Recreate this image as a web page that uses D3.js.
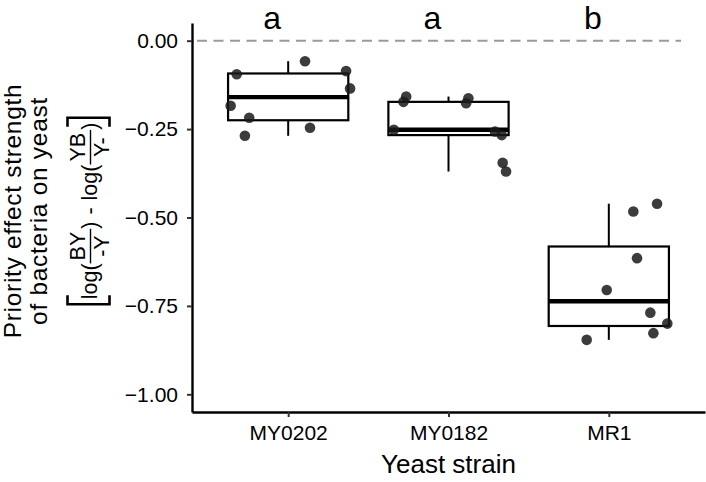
<!DOCTYPE html>
<html>
<head>
<meta charset="utf-8">
<script src="https://cdn.jsdelivr.net/npm/d3@7"></script>
<style>
  html, body { margin: 0; padding: 0; background: #fff; }
  svg { display: block; font-family: "Liberation Sans", Arial, Helvetica, sans-serif; }
</style>
</head>
<body>
<svg id="chart" width="706" height="482"></svg>
<script>
// ---- data ----
const categories = ["MY0202", "MY0182", "MR1"];
const my0202Values = [-0.058, -0.095, -0.086, -0.135, -0.184, -0.218, -0.246, -0.269];
const my0202Jitter = [0.105, -0.321, 0.361, 0.386, -0.359, -0.243, 0.136, -0.270];
const my0182Values = [-0.158, -0.173, -0.163, -0.177, -0.252, -0.257, -0.267, -0.345, -0.370];
const my0182Jitter = [-0.264, -0.281, 0.124, 0.110, -0.341, 0.290, 0.332, 0.338, 0.359];
const mr1Values = [-0.461, -0.483, -0.615, -0.705, -0.769, -0.800, -0.827, -0.846];
const mr1Jitter = [0.301, 0.153, 0.176, -0.013, 0.259, 0.365, 0.278, -0.138];
const sigLetters = ["a", "a", "b"];
const yTicks = [0, -0.25, -0.5, -0.75, -1];

const groupValues = [my0202Values, my0182Values, mr1Values];
const groupJitter = [my0202Jitter, my0182Jitter, mr1Jitter];

// ---- layout ----
const svg = d3.select("#chart");
const mLeft = 192, mRight = 705, mTop = 23, mBottom = 412;

const x = d3.scalePoint().domain(categories).range([mLeft, mRight]).padding(0.6);
const step = x.step();
const y = d3.scaleLinear().domain([-1.05, 0.05]).range([mBottom, mTop]);

// reference line at 0
svg.append("line")
  .attr("x1", mLeft + 5).attr("x2", mRight - 24)
  .attr("y1", y(0)).attr("y2", y(0))
  .attr("stroke", "#9a9a9a").attr("stroke-width", 2)
  .attr("stroke-dasharray", "10,6.5");

// box stats
const stats = groupValues.map((vals, i) => {
  const s = vals.slice().sort(d3.ascending);
  const q1 = d3.quantile(s, 0.25), med = d3.quantile(s, 0.5), q3 = d3.quantile(s, 0.75);
  const iqr = q3 - q1;
  const lo = d3.min(s.filter(v => v >= q1 - 1.5 * iqr));
  const hi = d3.max(s.filter(v => v <= q3 + 1.5 * iqr));
  return { cat: categories[i], q1, med, q3, lo, hi };
});

const boxW = step * 0.75;
const boxes = svg.append("g");
stats.forEach(d => {
  const cx = x(d.cat);
  const g = boxes.append("g");
  g.append("line").attr("x1", cx).attr("x2", cx).attr("y1", y(d.q3)).attr("y2", y(d.hi))
    .attr("stroke", "#000").attr("stroke-width", 2);
  g.append("line").attr("x1", cx).attr("x2", cx).attr("y1", y(d.q1)).attr("y2", y(d.lo))
    .attr("stroke", "#000").attr("stroke-width", 2);
  g.append("rect").attr("x", cx - boxW / 2).attr("width", boxW)
    .attr("y", y(d.q3)).attr("height", y(d.q1) - y(d.q3))
    .attr("fill", "#fff").attr("stroke", "#000").attr("stroke-width", 2.2);
  g.append("line").attr("x1", cx - boxW / 2).attr("x2", cx + boxW / 2)
    .attr("y1", y(d.med)).attr("y2", y(d.med))
    .attr("stroke", "#000").attr("stroke-width", 4.4);
});

// points
const pts = [];
groupValues.forEach((vals, i) => vals.forEach((v, j) => pts.push({ cat: categories[i], v, jit: groupJitter[i][j] })));
svg.append("g").selectAll("circle").data(pts).join("circle")
  .attr("cx", d => x(d.cat) + d.jit * step)
  .attr("cy", d => y(d.v))
  .attr("r", 5.3)
  .attr("fill", "#1a1a1a").attr("fill-opacity", 0.85);

// significance letters
svg.append("g").selectAll("text").data(categories).join("text")
  .attr("x", (d, i) => x(d) - 0.1 * step)
  .attr("y", 29)
  .attr("text-anchor", "middle")
  .attr("font-size", 32)
  .attr("fill", "#000")
  .text((d, i) => sigLetters[i]);

// axes
const yAxis = svg.append("g").attr("transform", `translate(${mLeft},0)`)
  .call(d3.axisLeft(y).tickValues(yTicks).tickFormat(d3.format(".2f")).tickSize(5).tickPadding(9).tickSizeOuter(0));
const xAxis = svg.append("g").attr("transform", `translate(0,${mBottom})`)
  .call(d3.axisBottom(x).tickSize(5).tickPadding(8).tickSizeOuter(0));
[yAxis, xAxis].forEach(a => {
  a.attr("font-family", null);
  a.select(".domain").attr("stroke", "#000").attr("stroke-width", 2.4);
  a.selectAll(".tick line").attr("stroke", "#333").attr("stroke-width", 2);
  a.selectAll(".tick text").attr("fill", "#000");
});
yAxis.attr("font-size", 21);
xAxis.attr("font-size", 21);

// x title
svg.append("text").attr("x", (mLeft + mRight) / 2).attr("y", 473)
  .attr("text-anchor", "middle").attr("font-size", 26).attr("fill", "#000")
  .text("Yeast strain");

// y title lines
const yCenter = 211;
svg.append("text").attr("transform", `translate(21,${yCenter}) rotate(-90)`)
  .attr("text-anchor", "middle").attr("font-size", 24.5).attr("letter-spacing", 0.7).attr("fill", "#000")
  .text("Priority effect strength");
svg.append("text").attr("transform", `translate(46.5,${yCenter}) rotate(-90)`)
  .attr("text-anchor", "middle").attr("font-size", 24.5).attr("letter-spacing", 0.7).attr("fill", "#000")
  .text("of bacteria on yeast");

// bracketed expression: laid out sequentially in a rotated group
// local x runs upward on screen, local y runs to the right; fraction bars at local y = 0
const ex = svg.append("g").attr("transform", `translate(90.5,${yCenter}) rotate(-90)`);
const inner = ex.append("g");
const fs = 21.5;
const bTop = -23, bBot = 19, serif = 9;
let cur = 0;
function addText(str, dx) {
  const t = inner.append("text").attr("x", cur + (dx || 0)).attr("y", 6).attr("font-size", fs).attr("fill", "#000").text(str);
  cur += (dx || 0) + t.node().getComputedTextLength();
}
function addFrac(num, den) {
  const n = inner.append("text").attr("y", -5.5).attr("font-size", fs).attr("text-anchor", "middle").attr("fill", "#000").text(num);
  const d = inner.append("text").attr("y", 18).attr("font-size", fs).attr("text-anchor", "middle").attr("fill", "#000").text(den);
  const w = Math.max(n.node().getComputedTextLength(), d.node().getComputedTextLength()) + 6;
  n.attr("x", cur + w / 2); d.attr("x", cur + w / 2);
  inner.append("line").attr("x1", cur).attr("x2", cur + w).attr("y1", 0).attr("y2", 0)
    .attr("stroke", "#000").attr("stroke-width", 1.4);
  cur += w;
}
// opening bracket
inner.append("path").attr("d", `M${serif},${bTop} L0,${bTop} L0,${bBot} L${serif},${bBot}`)
  .attr("fill", "none").attr("stroke", "#000").attr("stroke-width", 2.6);
cur = 5;
addText("log(");
addFrac("BY", "-Y");
addText(")");
addText("-", 7);
addText("log(", 7);
addFrac("YB", "Y-");
addText(")");
cur += 5;
inner.append("path").attr("d", `M${cur - serif},${bTop} L${cur},${bTop} L${cur},${bBot} L${cur - serif},${bBot}`)
  .attr("fill", "none").attr("stroke", "#000").attr("stroke-width", 2.6);
inner.attr("transform", `translate(${-cur / 2},0)`);
</script>
</body>
</html>
